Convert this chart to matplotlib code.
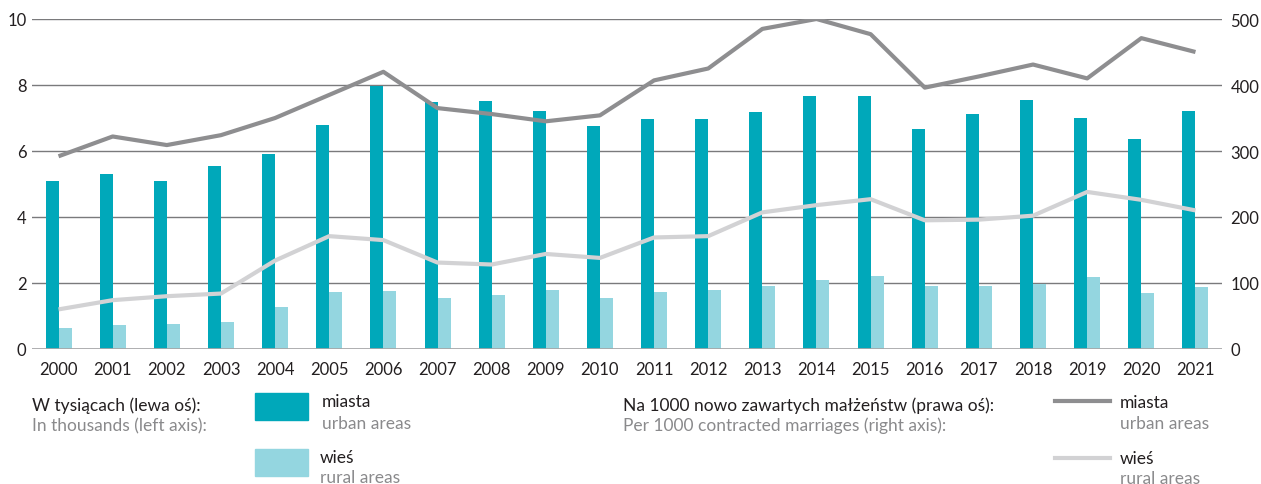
import matplotlib
matplotlib.use("Agg")
import matplotlib.pyplot as plt
from matplotlib.patches import Rectangle
from matplotlib.lines import Line2D
import numpy as np

plt.rcParams['font.family'] = ['Lato', 'DejaVu Sans']

# data
years = [str(y) for y in range(2000, 2022)]
urban_thousands = [5.10, 5.29, 5.09, 5.54, 5.92, 6.79, 7.97, 7.49, 7.53, 7.21, 6.75,
                   6.97, 6.96, 7.19, 7.68, 7.66, 6.67, 7.12, 7.54, 7.01, 6.37, 7.20]
rural_thousands = [0.63, 0.72, 0.76, 0.82, 1.28, 1.72, 1.77, 1.56, 1.63, 1.78, 1.56,
                   1.73, 1.79, 1.91, 2.09, 2.20, 1.91, 1.91, 1.96, 2.18, 1.71, 1.87]
urban_per1000 = [292, 322, 309, 324, 350, 385, 420, 365, 356, 345, 354,
                 407, 425, 485, 500, 477, 396, 413, 431, 410, 471, 450]
rural_per1000 = [60, 74, 80, 84, 134, 171, 165, 131, 128, 144, 138,
                 169, 171, 207, 218, 227, 195, 196, 202, 238, 226, 210]

c_urban_bar = '#00a8ba'
c_rural_bar = '#94d6e0'
c_urban_line = '#8e8e90'
c_rural_line = '#d2d2d4'
c_text = '#231f20'
c_sub = '#8a8a8c'

fig = plt.figure(figsize=(12.61, 4.85), dpi=100)
ax = fig.add_axes([32 / 1261, 1 - 350 / 485, (1222 - 32) / 1261, 330 / 485])
ax2 = ax.twinx()

x = np.arange(len(years))
w = 0.24
ax.bar(x - w / 2, urban_thousands, w, color=c_urban_bar, zorder=2)
ax.bar(x + w / 2, rural_thousands, w, color=c_rural_bar, zorder=2)
ax.set_ylim(0, 10)
ax.set_xlim(-0.49, 21.49)
ax.set_yticks(range(0, 11, 2))
ax.set_xticks(x)
ax.set_xticklabels(years)
for yv in range(2, 11, 2):
    ax.axhline(yv, color='#7a7a7c', lw=1.0, zorder=1)
ax.axhline(0, color='#a7a7a9', lw=2.0, zorder=3)

ax2.plot(x, urban_per1000, color=c_urban_line, lw=3, solid_capstyle='butt')
ax2.plot(x, rural_per1000, color=c_rural_line, lw=3, solid_capstyle='butt')
ax2.set_ylim(0, 500)
ax2.set_yticks(range(0, 501, 100))

for a in (ax, ax2):
    for s in a.spines.values():
        s.set_visible(False)
    a.tick_params(length=0, labelsize=12, colors=c_text)
ax.tick_params(axis='y', pad=4)
ax2.tick_params(axis='y', pad=6)
ax.tick_params(axis='x', pad=9)

# legend (drawn by hand to follow the original layout)
fs = 12.5
def fy(py):
    return 1 - py / 485

def label(px, py, s, col):
    fig.text(px / 1261, fy(py), s, fontsize=fs, color=col, va='baseline')

label(32, 411, 'W tysiącach (lewa oś):', c_text)
label(32, 431, 'In thousands (left axis):', c_sub)
fig.patches.append(Rectangle((255 / 1261, fy(421)), 53 / 1261, 27 / 485,
                             transform=fig.transFigure, color=c_urban_bar))
fig.patches.append(Rectangle((255 / 1261, fy(477)), 53 / 1261, 27 / 485,
                             transform=fig.transFigure, color=c_rural_bar))
label(322, 407, 'miasta', c_text)
label(322, 429, 'urban areas', c_sub)
label(320, 463, 'wieś', c_text)
label(320, 483, 'rural areas', c_sub)

label(623, 411, 'Na 1000 nowo zawartych małżeństw (prawa oś):', c_text)
label(623, 431, 'Per 1000 contracted marriages (right axis):', c_sub)
fig.lines.append(Line2D([1055 / 1261, 1110 / 1261], [fy(402), fy(402)], transform=fig.transFigure,
                        color=c_urban_line, lw=3))
fig.lines.append(Line2D([1055 / 1261, 1110 / 1261], [fy(459), fy(459)], transform=fig.transFigure,
                        color=c_rural_line, lw=3))
label(1120, 408, 'miasta', c_text)
label(1120, 429, 'urban areas', c_sub)
label(1120, 464, 'wieś', c_text)
label(1120, 484, 'rural areas', c_sub)

fig.savefig('out.png', dpi=100)
